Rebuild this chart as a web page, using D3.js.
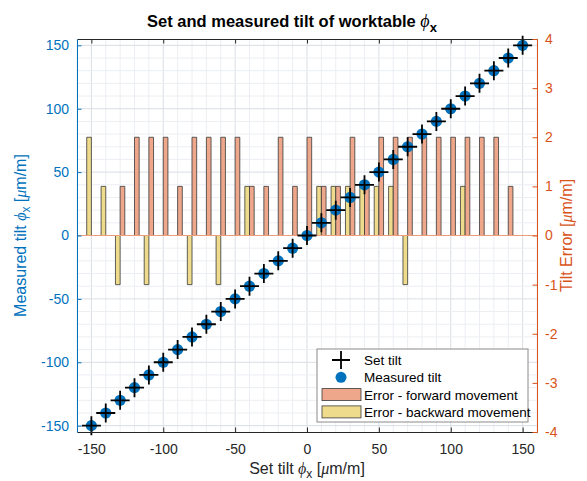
<!DOCTYPE html>
<html>
<head>
<meta charset="utf-8">
<script src="https://cdn.jsdelivr.net/npm/d3@7"></script>
<style>
  body { margin: 0; background: #fff; }
  svg { font-family: "Liberation Sans", Arial, sans-serif; }
</style>
</head>
<body>
<svg id="svg" width="587" height="481"></svg>
<script>
// set tilt positions [um/m]
const setTilt = [-150, -140, -130, -120, -110, -100, -90, -80, -70, -60, -50, -40, -30, -20, -10,
    0, 10, 20, 30, 40, 50, 60, 70, 80, 90, 100, 110, 120, 130, 140, 150];
const measuredTilt = [-150, -140, -130, -120, -110, -100, -90, -80, -70, -60, -50, -40, -30, -20, -10,
    0, 10, 20, 30, 40, 50, 60, 70, 80, 90, 100, 110, 120, 130, 140, 150];
// tilt error [um/m]
const errForward = [0, 0, 1, 2, 2, 2, 1, 2, 2, 2, 2, 1, 1, 2, 1,
    2, 1, 1, 2, 1, 2, 2, 2, 2, 2, 2, 2, 2, 2, 1, 0];
const errBackward = [2, 1, -1, 0, -1, 0, 0, -1, 0, -1, 0, 1, 0, 0, 0,
    0, 1, 1, 1, 1, 1, 1, -1, 0, 0, 0, 1, 0, 0, 0, 0];

const xTicks = [-150, -100, -50, 0, 50, 100, 150];
const yTicks = [-150, -100, -50, 0, 50, 100, 150];
const errTicks = [-4, -3, -2, -1, 0, 1, 2, 3, 4];
const legendItems = ["Set tilt", "Measured tilt", "Error - forward movement", "Error - backward movement"];

const blue = "#0072BD", orange = "#D95319", dark = "#262626";
const fwdFill = "#EEA78A", bwdFill = "#EEDC8C";

const svg = d3.select("#svg");
const L = 77, R = 537, T = 39, B = 432;

const x = d3.scaleLinear().domain([-160, 160]).range([L, R]);
const y = d3.scaleLinear().domain([-155, 155]).range([B, T]);
const yErr = d3.scaleLinear().domain([-4, 4]).range([B, T]);
const fmt = d => String(d);   // plain hyphen minus like the original

// grid
const grid = svg.append("g");
grid.selectAll(".vmin").data(d3.range(-160, 161, 10))
    .join("line")
    .attr("x1", d => x(d)).attr("x2", d => x(d))
    .attr("y1", T).attr("y2", B)
    .attr("stroke", d => d % 50 === 0 ? "#D9DEE4" : "#EBEEF2")
    .attr("stroke-width", 1);
grid.selectAll(".hmin").data(d3.range(-150, 151, 10))
    .join("line")
    .attr("x1", L).attr("x2", R)
    .attr("y1", d => y(d)).attr("y2", d => y(d))
    .attr("stroke", d => d % 50 === 0 ? "#D9DEE4" : "#EBEEF2")
    .attr("stroke-width", 1);

// bars
const bw = 3.25;
const bars = svg.append("g").attr("stroke", "#3a3a3a").attr("stroke-width", 0.8);
function barPath(x0, x1, v) {
    return `M${x(x0)},${yErr(0)}H${x(x1)}V${yErr(v)}H${x(x0)}Z`;
}
bars.selectAll(".bwd").data(setTilt)
    .join("path")
    .attr("fill", bwdFill)
    .attr("d", (d, i) => barPath(d - bw, d, errBackward[i]));
bars.selectAll(".fwd").data(setTilt)
    .join("path")
    .attr("fill", fwdFill)
    .attr("d", (d, i) => barPath(d, d + bw, errForward[i]));

// baseline
svg.append("line")
    .attr("x1", L).attr("x2", R)
    .attr("y1", yErr(0)).attr("y2", yErr(0))
    .attr("stroke", "#EE9C7A").attr("stroke-width", 1.2);

// measured tilt dots
svg.append("g").selectAll("circle").data(measuredTilt)
    .join("circle")
    .attr("cx", (d, i) => x(setTilt[i]))
    .attr("cy", d => y(d))
    .attr("r", 5.6)
    .attr("fill", blue);

// set tilt crosses
const cs = 9.5;
svg.append("g").selectAll("path").data(setTilt)
    .join("path")
    .attr("d", d => `M${x(d) - cs},${y(d)}H${x(d) + cs}M${x(d)},${y(d) - cs}V${y(d) + cs}`)
    .attr("stroke", "#000").attr("stroke-width", 1.8);

// axes
const tl = 4.5;
const axBottom = svg.append("g").attr("transform", `translate(0,${B})`)
    .call(d3.axisBottom(x).tickValues(xTicks).tickFormat(fmt).tickSize(-tl).tickPadding(12).tickSizeOuter(0));
const axTop = svg.append("g").attr("transform", `translate(0,${T})`)
    .call(d3.axisTop(x).tickValues(xTicks).tickSize(-tl).tickFormat("").tickSizeOuter(0));
[axBottom, axTop].forEach(g => {
    g.select(".domain").attr("stroke", dark);
    g.selectAll(".tick line").attr("stroke", dark);
    g.selectAll("text").attr("fill", dark).attr("font-size", 14).attr("font-family", "Liberation Sans, Arial");
});

const axLeft = svg.append("g").attr("transform", `translate(${L},0)`)
    .call(d3.axisLeft(y).tickValues(yTicks).tickFormat(fmt).tickSize(-tl).tickPadding(8).tickSizeOuter(0));
axLeft.select(".domain").attr("stroke", blue);
axLeft.selectAll(".tick line").attr("stroke", blue);
axLeft.selectAll("text").attr("fill", blue).attr("font-size", 14).attr("font-family", "Liberation Sans, Arial");

const axRight = svg.append("g").attr("transform", `translate(${R},0)`)
    .call(d3.axisRight(yErr).tickValues(errTicks).tickFormat(fmt).tickSize(-tl).tickPadding(8).tickSizeOuter(0));
axRight.select(".domain").attr("stroke", orange);
axRight.selectAll(".tick line").attr("stroke", orange);
axRight.selectAll("text").attr("fill", orange).attr("font-size", 14).attr("font-family", "Liberation Sans, Arial");

// title and labels
const title = svg.append("text")
    .attr("x", 292).attr("y", 27)
    .attr("text-anchor", "middle")
    .attr("font-size", 16.5).attr("font-weight", "bold").attr("fill", "#000");
title.append("tspan").text("Set and measured tilt of worktable ");
title.append("tspan").text("ϕ").attr("font-family", "Liberation Serif, serif").attr("font-style", "italic").attr("font-weight", "normal").attr("font-size", 18);
title.append("tspan").text("x").attr("dy", 5).attr("font-size", 13);

const xl = svg.append("text")
    .attr("x", (L + R) / 2).attr("y", 474)
    .attr("text-anchor", "middle").attr("font-size", 16).attr("fill", dark);
xl.append("tspan").text("Set tilt ");
xl.append("tspan").text("ϕ").attr("font-family", "Liberation Serif, serif").attr("font-style", "italic");
xl.append("tspan").text("x").attr("dy", 4).attr("font-size", 12);
xl.append("tspan").text(" [").attr("dy", -4);
xl.append("tspan").text("μ").attr("font-family", "Liberation Serif, serif").attr("font-style", "italic");
xl.append("tspan").text("m/m]");

const yl = svg.append("text")
    .attr("transform", `translate(26,${(T + B) / 2}) rotate(-90)`)
    .attr("text-anchor", "middle").attr("font-size", 16).attr("fill", blue);
yl.append("tspan").text("Measured tilt ");
yl.append("tspan").text("ϕ").attr("font-family", "Liberation Serif, serif").attr("font-style", "italic");
yl.append("tspan").text("x").attr("dy", 4).attr("font-size", 12);
yl.append("tspan").text(" [").attr("dy", -4);
yl.append("tspan").text("μ").attr("font-family", "Liberation Serif, serif").attr("font-style", "italic");
yl.append("tspan").text("m/m]");

const yr = svg.append("text")
    .attr("transform", `translate(572,${(T + B) / 2}) rotate(-90)`)
    .attr("text-anchor", "middle").attr("font-size", 16).attr("fill", orange);
yr.append("tspan").text("Tilt Error [");
yr.append("tspan").text("μ").attr("font-family", "Liberation Serif, serif").attr("font-style", "italic");
yr.append("tspan").text("m/m]");

// legend
const lg = svg.append("g").attr("transform", "translate(317,349)");
lg.append("rect").attr("width", 211).attr("height", 73)
    .attr("fill", "#fff").attr("stroke", "#8a8a8a").attr("stroke-width", 1);
const rows = lg.selectAll("g").data(legendItems).join("g")
    .attr("transform", (d, i) => `translate(0,${11 + i * 17.3})`);
rows.append("text").attr("x", 47).attr("y", 5).attr("font-size", 13.5).attr("fill", "#000").text(d => d);
rows.each(function (d, i) {
    const g = d3.select(this);
    if (i === 0) {
        g.append("path").attr("d", "M15,0H33M24,-9V9").attr("stroke", "#000").attr("stroke-width", 1.8);
    } else if (i === 1) {
        g.append("circle").attr("cx", 24).attr("cy", 0).attr("r", 5.5).attr("fill", blue);
    } else {
        g.append("rect").attr("x", 5).attr("y", -6).attr("width", 39).attr("height", 12)
            .attr("fill", i === 2 ? fwdFill : bwdFill).attr("stroke", "#3a3a3a").attr("stroke-width", 0.8);
    }
});
</script>
</body>
</html>
